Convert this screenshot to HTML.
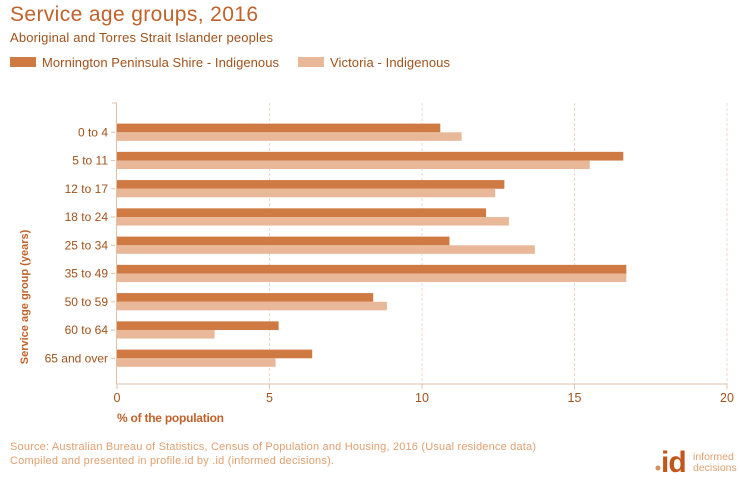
<!DOCTYPE html>
<html><head><meta charset="utf-8"><style>
body{margin:0;background:#fff;font-family:"Liberation Sans",sans-serif;}
svg{display:block}
</style></head><body>
<svg width="740" height="480" xmlns="http://www.w3.org/2000/svg" font-family="Liberation Sans, sans-serif">
<text x="10" y="21" font-size="21" textLength="248" fill="#c0622a">Service age groups, 2016</text>
<text x="10" y="42" font-size="13" textLength="263" fill="#a0521c">Aboriginal and Torres Strait Islander peoples</text>
<rect x="10" y="57" width="26" height="10" fill="#cf7a43"/>
<text x="42" y="67" font-size="13" textLength="237" fill="#a0521c">Mornington Peninsula Shire - Indigenous</text>
<rect x="298" y="57" width="26" height="10" fill="#e8b898"/>
<text x="330" y="67" font-size="13" textLength="120" fill="#a0521c">Victoria - Indigenous</text>
<g id="plot"></g>
<text x="117" y="422" font-size="12" font-weight="bold" textLength="107" fill="#c0622a">% of the population</text>
<text transform="translate(28,297) rotate(-90)" text-anchor="middle" font-size="11" font-weight="bold" fill="#c0622a">Service age group (years)</text>
<text x="10" y="450" font-size="11" textLength="526" fill="#e0a070">Source: Australian Bureau of Statistics, Census of Population and Housing, 2016 (Usual residence data)</text>
<text x="10" y="464" font-size="11" textLength="324" fill="#e0a070">Compiled and presented in profile.id by .id (informed decisions).</text>
<g>
<circle cx="658" cy="468" r="2.5" fill="#d89060"/>
<text x="661" y="472" font-size="30" font-weight="bold" fill="#c0561a" letter-spacing="-1">id</text>
<text x="693" y="460" font-size="10.5" fill="#e0a070">informed</text>
<text x="693" y="471" font-size="10.5" fill="#e0a070">decisions</text>
</g>
</svg>
<script>
const categories=["0 to 4","5 to 11","12 to 17","18 to 24","25 to 34","35 to 49","50 to 59","60 to 64","65 and over"];
const mornington=[10.6,16.6,12.7,12.1,10.9,16.7,8.4,5.3,6.4];
const victoria=[11.3,15.5,12.4,12.85,13.7,16.7,8.85,3.2,5.2];
const xTicks=[0,5,10,15,20];
const NS="http://www.w3.org/2000/svg";
const g=document.getElementById('plot');
const x0=117,x1=727,yTop=103,yBot=384,rowTop=118,rowH=28.25;
const xs=v=>x0+(v-0)/(20-0)*(x1-x0);
function mk(t,a){const e=document.createElementNS(NS,t);for(const k in a)e.setAttribute(k,a[k]);g.appendChild(e);return e;}
xTicks.forEach(t=>{
  if(t>0){const l=mk('line',{x1:xs(t),x2:xs(t),y1:yTop,y2:yBot,stroke:'#f0d8c8','stroke-dasharray':'3,2'});
  
  }
  const tk=mk('line',{x1:xs(t),x2:xs(t),y1:yBot,y2:yBot+5,stroke:'#e0c0a8'});
  
  
  const tx=mk('text',{x:xs(t),y:yBot+18,'text-anchor':'middle','font-size':'12.5',fill:'#a0521c'});
  tx.textContent=t;
  
  
});
const ax=mk('line',{x1:x0-0.5,x2:x0-0.5,y1:yTop,y2:yBot,stroke:'#e0c0a8'});


const bx=mk('line',{x1:x0,x2:x1,y1:yBot,y2:yBot,stroke:'#e0c0a8'});


mk('line',{x1:x0-5,x2:x0,y1:yTop,y2:yTop,stroke:'#e0c0a8'});
categories.forEach((c,i)=>{
  const cy=rowTop+rowH*i+14.3;
  const b1=mk('rect',{x:x0,y:cy-8.7,width:xs(mornington[i])-x0,height:8.7,fill:'#cf7a43'});
  
  
  const b2=mk('rect',{x:x0,y:cy,width:xs(victoria[i])-x0,height:8.5,fill:'#e8b898'});
  
  
  mk('line',{x1:x0-6,x2:x0-2,y1:cy,y2:cy,stroke:'#e0c0a8'});
  const t=mk('text',{x:x0-9,y:cy+4,'text-anchor':'end','font-size':'12',fill:'#a0521c'});
  t.textContent=c;
  
  
});
</script>
</body></html>
